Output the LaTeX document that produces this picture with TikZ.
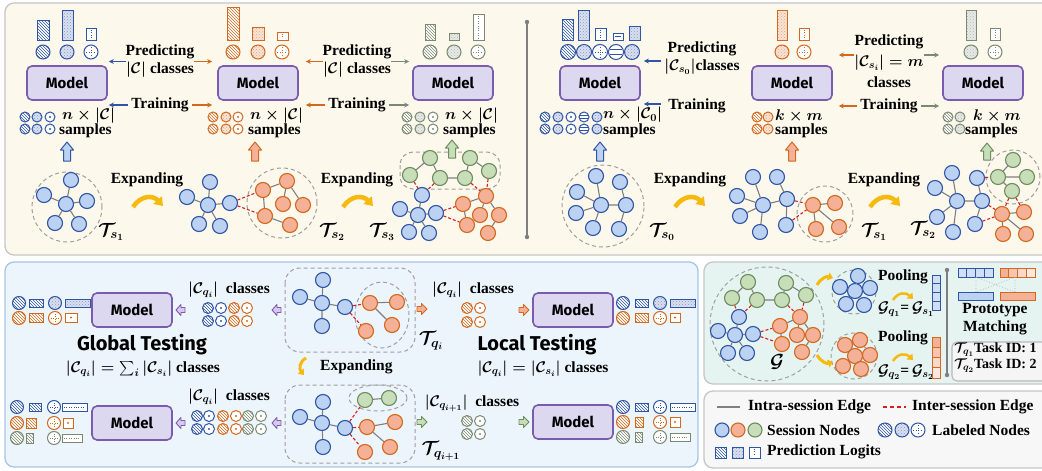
\RequirePackage{fix-cm}
\documentclass[tikz,border=0pt]{standalone}
\usepackage{amsmath}
\usepackage{bm}
\usepackage{fontspec}
\setmainfont{Liberation Serif}
\newfontfamily\mfont{Fira Sans}
\usetikzlibrary{patterns,arrows.meta}
\definecolor{bD}{HTML}{2F55A4}
\definecolor{bL}{HTML}{BCD2F2}
\definecolor{oD}{HTML}{D2691E}
\definecolor{oL}{HTML}{F5B197}
\definecolor{gD}{HTML}{6E8C5E}
\definecolor{gL}{HTML}{C7DEB9}
\definecolor{gI}{HTML}{7A8A72}
\definecolor{pD}{HTML}{7B5BAE}
\definecolor{pL}{HTML}{DCD8F0}
\definecolor{pA}{HTML}{D9C8EE}
\definecolor{yA}{HTML}{F6B90E}
\definecolor{redE}{HTML}{D62020}
\definecolor{grE}{HTML}{7F7F7F}
\definecolor{topF}{HTML}{FDF8EC}
\definecolor{blF}{HTML}{EDF5FC}
\definecolor{blB}{HTML}{A8C4E5}
\definecolor{mF}{HTML}{E6F4F1}
\tikzset{
  sn/.style={circle,draw,line width=1.1pt,minimum size=15pt,inner sep=0pt},
  bn/.style={sn,draw=bD,fill=bL},
  on/.style={sn,draw=oD,fill=oL},
  gn/.style={sn,draw=gD,fill=gL},
  ie/.style={grE,line width=1.1pt},
  xe/.style={redE,line width=1.1pt,dash pattern=on 3pt off 2pt},
  model/.style={draw=pD,fill=pL,rounded corners=5pt,line width=1.6pt,minimum width=80pt,minimum height=34pt,font=\mfont\bfseries\fontsize{15}{15}\selectfont},
  lbl/.style={font=\bfseries\boldmath\fontsize{15.5}{18}\selectfont,inner sep=0pt,align=center},
  tlab/.style={font=\bfseries\boldmath\fontsize{19}{19}\selectfont,inner sep=0pt},
  dcirc/.style={draw=gray!75,dash pattern=on 4pt off 3pt,line width=1pt},
  arr/.style={-{Stealth[length=5pt,width=5pt]},line width=1.1pt},
  ya/.style={yA,line width=4.5pt,-{Triangle[length=8pt,width=11pt]}},
  yas/.style={yA,line width=3pt,-{Triangle[length=5pt,width=8pt]}},
  panel/.style={rounded corners=9pt,line width=1.3pt},
  big/.style={font=\mfont\bfseries\fontsize{20}{20}\selectfont,inner sep=0pt}
}
\newcommand\ico[5]{%
  \ifcase#5\or
    \draw[#4,line width=1pt,preaction={fill=white},pattern=north west lines,pattern color=#4] (#1,#2) circle (#3pt);
  \or
    \draw[#4,line width=1pt,preaction={fill=#4!18},pattern=crosshatch dots,pattern color=#4!60] (#1,#2) circle (#3pt);
  \or
    \draw[#4,line width=1pt,fill=white] (#1,#2) circle (#3pt);
    \draw[#4,line width=0.9pt,dash pattern=on 1pt off 1.4pt] (#1-0.65*#3,#2) -- (#1+0.65*#3,#2) (#1,#2-0.65*#3) -- (#1,#2+0.65*#3);
  \or
    \draw[#4,line width=1pt,fill=white] (#1,#2) circle (#3pt);
    \draw[#4,line width=0.9pt] (#1-0.8*#3,#2-0.3*#3) -- (#1+0.8*#3,#2-0.3*#3) (#1-0.8*#3,#2+0.3*#3) -- (#1+0.8*#3,#2+0.3*#3);
  \or
    \draw[#4,line width=1pt,fill=white] (#1,#2) circle (#3pt);
    \fill[#4] (#1,#2) circle (1.1pt);
  \fi}
\newcommand\lbar[6]{%
  \ifcase#6\or
    \draw[#5,line width=1pt,preaction={fill=white},pattern=north west lines,pattern color=#5] (#1,#2) rectangle (#3,#4);
  \or
    \draw[#5,line width=1pt,preaction={fill=#5!18},pattern=crosshatch dots,pattern color=#5!60] (#1,#2) rectangle (#3,#4);
  \or
    \draw[#5,line width=1pt,fill=white] (#1,#2) rectangle (#3,#4);
    \draw[#5,line width=0.9pt,dash pattern=on 1pt off 1.4pt] ({(#1+#3)/2},#2+2) -- ({(#1+#3)/2},#4-2);
  \or
    \draw[#5,line width=1pt,fill=white] (#1,#2) rectangle (#3,#4);
    \draw[#5,line width=0.9pt] (#1+2,{(#2+#4)/2}) -- (#3-2,{(#2+#4)/2});
  \or
    \draw[#5,line width=1pt,fill=white] (#1,#2) rectangle (#3,#4);
    \fill[#5] ({(#1+#3)/2},{(#2+#4)/2}) circle (1.1pt);
  \or
    \draw[#5,line width=1pt,fill=white] (#1,#2) rectangle (#3,#4);
    \draw[#5,line width=0.9pt,dash pattern=on 1pt off 1.4pt] (#1+2,{(#2+#4)/2}) -- (#3-2,{(#2+#4)/2});
  \fi}
\newcommand\uparr[5]{\draw[#5,fill=#4,line width=1pt,line join=round] (#1-3.5,#3) -- (#1-3.5,#2+8) -- (#1-6.5,#2+8) -- (#1,#2) -- (#1+6.5,#2+8) -- (#1+3.5,#2+8) -- (#1+3.5,#3) -- cycle;}
\newcommand\harr[5]{\draw[#5,fill=#4,line width=0.9pt,line join=round] (#1,#3-2.5) -- ({#1+0.45*(#2-#1)},#3-2.5) -- ({#1+0.45*(#2-#1)},#3-5.5) -- (#2,#3) -- ({#1+0.45*(#2-#1)},#3+5.5) -- ({#1+0.45*(#2-#1)},#3+2.5) -- (#1,#3+2.5) -- cycle;}
\begin{document}
\begin{tikzpicture}[x=1pt,y=-1pt]
\clip (0,0) rectangle (1042,471);
\fill[white] (0,0) rectangle (1042,471);
% panels
\draw[panel,fill=topF,draw=gray!45] (5,3) rectangle (1070,255);
\draw[panel,fill=blF,draw=blB] (5,262) rectangle (698,467);
\draw[panel,fill=mF,draw=gray!45] (704,262) rectangle (1070,384);
\draw[panel,fill=gray!6,draw=gray!45] (704,391) rectangle (1070,468);
% separator
\draw[grE,line width=1.2pt] (527,22) -- (527,237);
\fill[grE] (527,22) circle (2.2pt) (527,237) circle (2.2pt);
% ===== models top
\node[model] (m1) at (67,83) {Model};
\node[model] (m2) at (258,83) {Model};
\node[model] (m3) at (453,83) {Model};
\node[model] (m4) at (600,83) {Model};
\node[model] (m5) at (792,83) {Model};
\node[model] (m6) at (983,83) {Model};
% histograms
\lbar{37}{20}{49}{40}{bD}{1}\lbar{62}{10}{73}{40}{bD}{2}\lbar{86}{28}{96}{40}{bD}{3}
\ico{43}{52}{7}{bD}{1}\ico{67}{52}{7}{bD}{2}\ico{91}{52}{7}{bD}{3}
\lbar{227}{7}{239}{40}{oD}{1}\lbar{252}{27}{264}{40}{oD}{2}\lbar{277}{32}{288}{40}{oD}{3}
\ico{233}{52}{7}{oD}{1}\ico{258}{52}{7}{oD}{2}\ico{282}{52}{7}{oD}{3}
\lbar{425}{24}{435}{40}{gI}{1}\lbar{449}{33}{459}{40}{gI}{2}\lbar{473}{14}{484}{40}{gI}{3}
\ico{430}{52}{7}{gI}{1}\ico{454}{52}{7}{gI}{2}\ico{478}{52}{7}{gI}{3}
\lbar{562}{19}{573}{40}{bD}{1}\lbar{578}{10}{589}{40}{bD}{2}\lbar{595}{28}{606}{40}{bD}{3}\lbar{613}{33}{623}{40}{bD}{4}\lbar{629}{26}{640}{40}{bD}{2}
\ico{568}{52}{7.5}{bD}{1}\ico{584}{52}{7.5}{bD}{2}\ico{600}{52}{7.5}{bD}{3}\ico{616}{52}{7.5}{bD}{4}\ico{632}{52}{7.5}{bD}{2}
\lbar{777}{10}{787}{40}{oD}{2}\lbar{799}{28}{809}{40}{oD}{3}
\ico{782}{52}{7}{oD}{2}\ico{804}{52}{7}{oD}{3}
\lbar{966}{10}{976}{40}{gI}{2}\lbar{990}{28}{1000}{40}{gI}{3}
\ico{971}{52}{7}{gI}{2}\ico{995}{52}{7}{gI}{3}
% labels & arrows
\node[lbl] (p1) at (160,61.5) {Predicting\\$|\mathcal{C}|$ classes};
\draw[arr,bD,shorten >=1pt] (p1.west) -- (p1.west -| m1.east);
\draw[arr,oD,shorten >=5pt] (p1.east) -- (p1.east -| m2.west);
\node[lbl] (t1) at (160,105) {Training};
\draw[arr,bD,shorten >=1pt] ([xshift=-3pt]t1.west) -- (t1.west -| m1.east);
\draw[arr,oD,shorten >=5pt] ([xshift=3pt]t1.east) -- (t1.east -| m2.west);
\node[lbl] (p2) at (357,61.5) {Predicting\\$|\mathcal{C}|$ classes};
\draw[arr,oD,shorten >=7pt] (p2.west) -- (p2.west -| m2.east);
\draw[arr,gI,shorten >=3pt] (p2.east) -- (p2.east -| m3.west);
\node[lbl] (t2) at (357,105) {Training};
\draw[arr,oD,shorten >=7pt] ([xshift=-3pt]t2.west) -- (t2.west -| m2.east);
\draw[arr,gI,shorten >=3pt] ([xshift=3pt]t2.east) -- (t2.east -| m3.west);
\node[lbl] (p4) at (702,58) {Predicting\\$|\mathcal{C}_{s_0}|$classes};
\draw[arr,bD,shorten >=3pt] ([yshift=-3pt,xshift=-3pt]p4.west) -- ([yshift=-3pt]p4.west -| m4.east);
\node[lbl] (t4) at (697,106) {Training};
\draw[arr,bD,shorten >=3pt] ([yshift=2pt,xshift=-7pt]t4.west) -- ([yshift=2pt]t4.west -| m4.east);
\node[lbl,font=\bfseries\boldmath\fontsize{15.5}{21}\selectfont] (p5) at (889,61) {Predicting\\$|\mathcal{C}_{s_i}|=m$\\classes};
\draw[arr,oD,shorten >=6pt] ([yshift=6pt]p5.west) -- ([yshift=6pt]p5.west -| m5.east);
\draw[arr,gI,shorten >=3pt] ([yshift=6pt]p5.east) -- ([yshift=6pt]p5.east -| m6.west);
\node[lbl] (t5) at (889,106) {Training};
\draw[arr,oD,shorten >=6pt] ([xshift=-3pt]t5.west) -- (t5.west -| m5.east);
\draw[arr,gI,shorten >=3pt] ([xshift=3pt]t5.east) -- (t5.east -| m6.west);
% samples
\foreach \yy in {117,129}{\ico{25}{\yy}{5}{bD}{1}\ico{37}{\yy}{5}{bD}{2}\ico{50}{\yy}{5}{bD}{5}
 \ico{213}{\yy}{5}{oD}{1}\ico{226}{\yy}{5}{oD}{2}\ico{238}{\yy}{5}{oD}{5}
 \ico{407}{\yy}{5}{gI}{1}\ico{420}{\yy}{5}{gI}{2}\ico{433}{\yy}{5}{gI}{5}
 \ico{545}{\yy}{5}{bD}{1}\ico{558}{\yy}{5}{bD}{2}\ico{571}{\yy}{5}{bD}{5}\ico{584}{\yy}{5}{bD}{4}\ico{597}{\yy}{5}{bD}{2}
 \ico{757}{\yy}{5}{oD}{1}\ico{768}{\yy}{5}{oD}{2}
 \ico{948}{\yy}{5}{gI}{1}\ico{960}{\yy}{5}{gI}{2}}
\node[lbl,anchor=west] (s1a) at (62,116) {$n\times|\mathcal{C}|$};
\node[lbl,anchor=west] (s1b) at (59,131) {samples};
\node[lbl,anchor=west] (s2a) at (250,116) {$n\times|\mathcal{C}|$};
\node[lbl,anchor=west] (s2b) at (248,131) {samples};
\node[lbl,anchor=west] (s3a) at (445,116) {$n\times|\mathcal{C}|$};
\node[lbl,anchor=west] (s3b) at (443,131) {samples};
\node[lbl,anchor=west] (s4a) at (603,115) {$n\times|\mathcal{C}_0|$};
\node[lbl,anchor=west] (s4b) at (603,131) {samples};
\node[lbl,anchor=west] (s5a) at (775,116) {$k\times m$};
\node[lbl,anchor=west] (s5b) at (775,131) {samples};
\node[lbl,anchor=west] (s6a) at (973,116) {$k\times m$};
\node[lbl,anchor=west] (s6b) at (965,131) {samples};
% up arrows
\uparr{67}{142}{161}{bL}{bD}
\uparr{255}{142}{161}{oL}{oD}
\uparr{600}{142}{161}{bL}{bD}
\uparr{792}{142}{161}{oL}{oD}
% expanding
\node[lbl] (e1) at (147,180) {Expanding};
\draw[ya] (133,207) .. controls (141,195) and (153,195) .. (163,206);
\node[lbl] (e2) at (357,180) {Expanding};
\draw[ya] (343,207) .. controls (351,195) and (363,195) .. (373,206);
\node[lbl] (e3) at (690,180) {Expanding};
\draw[ya] (675,207) .. controls (683,195) and (695,195) .. (705,206);
\node[lbl] (e4) at (884,180) {Expanding};
\draw[ya] (870,207) .. controls (878,195) and (890,195) .. (900,206);
% ===== Ts1
\draw[dcirc] (67,207) circle (35pt);
\node[bn] (a0) at (66,204) {};\node[bn] (a1) at (71,180) {};\node[bn] (a2) at (44,195) {};
\node[bn] (a3) at (87,201) {};\node[bn] (a4) at (55,223) {};\node[bn] (a5) at (79,224) {};
\draw[ie] (a0)--(a1) (a0)--(a2) (a0)--(a3) (a0)--(a4) (a0)--(a5);
\node[tlab] (ts1) at (111,232) {$\mathcal{T}_{s_1}$};
% ===== Ts2
\draw[dcirc] (282,203) circle (35pt);
\node[bn] (b0) at (208,205) {};\node[bn] (b1) at (210,182) {};\node[bn] (b2) at (187,197) {};
\node[bn] (b3) at (230,203) {};\node[bn] (b4) at (199,224) {};\node[bn] (b5) at (220,226) {};
\node[on] (c1) at (263,190) {};\node[on] (c2) at (287,181) {};\node[on] (c3) at (283,204) {};
\node[on] (c4) at (303,205) {};\node[on] (c5) at (265,216) {};\node[on] (c6) at (290,225) {};
\draw[ie] (b0)--(b1) (b0)--(b2) (b0)--(b3) (b0)--(b4) (b0)--(b5);
\draw[ie] (c1)--(c2) (c1)--(c5) (c2)--(c3) (c2)--(c4) (c5)--(c6);
\draw[xe] (b3)--(c1) (b3)--(c5);
\node[tlab] (ts2) at (332,232) {$\mathcal{T}_{s_2}$};
% ===== Ts3
\draw[dcirc,rounded corners=13pt] (400,152) rectangle (500,189);
\node[bn] (d0) at (418,215) {};\node[bn] (d1) at (422,195) {};\node[bn] (d2) at (400,209) {};
\node[bn] (d3) at (436,213) {};\node[bn] (d4) at (409,232) {};\node[bn] (d5) at (429,233) {};
\node[gn] (f1) at (410,175) {};\node[gn] (f2) at (430,158) {};\node[gn] (f3) at (440,178) {};
\node[gn] (f4) at (465,178) {};\node[gn] (f5) at (470,158) {};\node[gn] (f6) at (489,171) {};
\node[on] (h1) at (463,204) {};\node[on] (h2) at (486,196) {};\node[on] (h3) at (467,225) {};
\node[on] (h4) at (480,215) {};\node[on] (h5) at (499,215) {};\node[on] (h6) at (488,233) {};
\draw[ie] (d0)--(d1) (d0)--(d2) (d0)--(d3) (d0)--(d4) (d0)--(d5);
\draw[ie] (f1)--(f2) (f2)--(f3) (f3)--(f4) (f4)--(f5) (f5)--(f6);
\draw[ie] (h1)--(h2) (h1)--(h3) (h2)--(h4) (h2)--(h5) (h5)--(h6);
\draw[xe] (f1)--(d1) (f3)--(d1) (f4)--(h2) (f6)--(h2) (d3)--(h1) (d3)--(h3);
\uparr{452}{140}{158}{gL}{gD}
\node[tlab] (ts3) at (382,232) {$\mathcal{T}_{s_3}$};
% ===== Ts0
\draw[dcirc] (603,206) circle (41pt);
\node[bn] (i0) at (601,205) {};\node[bn] (i1) at (596,176) {};\node[bn] (i2) at (577,192) {};
\node[bn] (i3) at (576,213) {};\node[bn] (i4) at (593,228) {};\node[bn] (i5) at (626,205) {};
\node[bn] (i6) at (620,182) {};\node[bn] (i7) at (619,229) {};
\draw[ie] (i0)--(i1) (i0)--(i2) (i0)--(i3) (i0)--(i4) (i0)--(i5) (i5)--(i6) (i5)--(i7);
\node[tlab] (ts0) at (662,232) {$\mathcal{T}_{s_0}$};
% ===== Ts1 right
\draw[dcirc] (825,214) circle (28pt);
\node[bn] (j0) at (763,205) {};\node[bn] (j1) at (753,177) {};\node[bn] (j2) at (777,177) {};
\node[bn] (j3) at (737,196) {};\node[bn] (j4) at (787,199) {};\node[bn] (j5) at (740,216) {};
\node[bn] (j6) at (760,232) {};\node[bn] (j7) at (786,225) {};
\node[on] (k1) at (813,205) {};\node[on] (k2) at (835,203) {};\node[on] (k3) at (816,229) {};\node[on] (k4) at (839,227) {};
\draw[ie] (j0)--(j1) (j0)--(j3) (j0)--(j5) (j0)--(j6) (j0)--(j4) (j4)--(j2) (j4)--(j7);
\draw[ie] (k1)--(k2) (k1)--(k3) (k1)--(k4);
\draw[xe] (j4)--(k1) (j7)--(k1);
\node[tlab] (ts1r) at (874,232) {$\mathcal{T}_{s_1}$};
% ===== Ts2 right
\draw[dcirc] (1013,177) circle (27pt);
\node[bn] (l0) at (957,201) {};\node[bn] (l1) at (952,173) {};\node[bn] (l2) at (977,178) {};
\node[bn] (l3) at (935,188) {};\node[bn] (l4) at (982,201) {};\node[bn] (l5) at (937,217) {};
\node[bn] (l6) at (953,232) {};\node[bn] (l7) at (975,224) {};
\node[gn] (q1) at (1013,160) {};\node[gn] (q2) at (998,177) {};\node[gn] (q3) at (1027,177) {};\node[gn] (q4) at (1012,191) {};
\node[on] (r1) at (1002,214) {};\node[on] (r2) at (1024,212) {};\node[on] (r3) at (1003,234) {};\node[on] (r4) at (1026,234) {};
\draw[ie] (l0)--(l1) (l0)--(l3) (l0)--(l5) (l0)--(l6) (l0)--(l4) (l4)--(l2) (l4)--(l7);
\draw[ie] (q2)--(q1) (q2)--(q3) (q2)--(q4);
\draw[ie] (r1)--(r2) (r1)--(r3) (r1)--(r4);
\draw[xe] (l2)--(q2) (l4)--(r1) (l7)--(r1) (q4)--(r1) (q4)--(r2);
\uparr{987}{143}{160}{gL}{gD}
\node[tlab] (ts2r) at (923,230) {$\mathcal{T}_{s_2}$};
% ===== bottom left
\node[model] (L1) at (132,310) {Model};
\node[model] (L2) at (132,423) {Model};
\node[model] (R1) at (573,310) {Model};
\node[model] (R2) at (573,422) {Model};
% outputs L1
\ico{19}{303}{6.5}{bD}{1}\lbar{29}{299}{43}{307}{bD}{1}\ico{55}{303}{6.5}{bD}{2}\lbar{65}{299}{90}{307}{bD}{2}
\ico{19}{318}{6.5}{oD}{1}\lbar{29}{313}{43}{322}{oD}{1}\ico{55}{318}{6.5}{oD}{3}\lbar{65}{313}{77}{322}{oD}{5}
% outputs L2
\ico{17}{407}{6.5}{bD}{1}\lbar{29}{403}{41}{411}{bD}{1}\ico{54}{407}{6.5}{bD}{3}\lbar{62}{403}{87}{411}{bD}{6}
\ico{17}{423}{6.5}{oD}{1}\lbar{26}{418}{36}{428}{oD}{1}\ico{54}{423}{6.5}{oD}{3}\lbar{63}{418}{73}{428}{oD}{5}
\ico{17}{438}{6.5}{gI}{1}\lbar{26}{433}{33}{443}{gI}{1}\ico{54}{438}{6.5}{gI}{3}\lbar{62}{434}{82}{442}{gI}{6}
\node[big] (gt) at (142,345) {Global Testing};
\node[lbl] (gf) at (143,369) {$|\mathcal{C}_{q_i}|=\sum_i|\mathcal{C}_{s_i}|$ classes};
\node[lbl] (cl1) at (229,290) {$|\mathcal{C}_{q_i}|$\ \ classes};
\node[lbl] (cl2) at (229,397) {$|\mathcal{C}_{q_i}|$\ \ classes};
\foreach \yy in {308,321}{\ico{208}{\yy}{5.5}{bD}{1}\ico{221}{\yy}{5.5}{bD}{5}\ico{234}{\yy}{5.5}{oD}{1}\ico{247}{\yy}{5.5}{oD}{5}}
\foreach \yy in {416,429}{\ico{197}{\yy}{5.5}{bD}{1}\ico{209}{\yy}{5.5}{bD}{5}\ico{223}{\yy}{5.5}{oD}{1}\ico{236}{\yy}{5.5}{oD}{5}\ico{248}{\yy}{5.5}{gI}{1}\ico{261}{\yy}{5.5}{gI}{5}}
\harr{185}{176}{310}{pA}{pD}\harr{281}{272}{310}{pA}{pD}
\harr{185}{176}{423}{pA}{pD}\harr{281}{272}{423}{pA}{pD}
% Tqi
\draw[dcirc,rounded corners=15pt] (285,268) rectangle (415,352);
\draw[dcirc] (382,315) ellipse [x radius=27pt,y radius=33pt];
\node[bn] (u0) at (322,303) {};\node[bn] (u1) at (323,280) {};\node[bn] (u2) at (300,297) {};
\node[bn] (u3) at (345,307) {};\node[bn] (u4) at (322,326) {};
\node[on] (v1) at (370,303) {};\node[on] (v2) at (397,302) {};\node[on] (v3) at (366,331) {};\node[on] (v4) at (392,325) {};
\draw[ie] (u0)--(u1) (u0)--(u2) (u0)--(u3) (u0)--(u4) (v1)--(v2) (v1)--(v4);
\draw[xe] (u3)--(v1) (u3)--(v3);
\node[tlab] (tqi) at (431,341) {$\mathcal{T}_{q_i}$};
\draw[yas] (306,358) .. controls (299,362) and (299,369) .. (304,375);
\node[lbl,anchor=west] (e5) at (320,367) {Expanding};
% Tqi+1
\draw[dcirc,rounded corners=15pt] (285,385) rectangle (415,463);
\draw[dcirc] (378,398) ellipse [x radius=29pt,y radius=13pt];
\node[bn] (w0) at (322,423) {};\node[bn] (w1) at (323,402) {};\node[bn] (w2) at (300,417) {};
\node[bn] (w3) at (345,428) {};\node[bn] (w4) at (323,447) {};
\node[gn] (x1) at (365,400) {};\node[gn] (x2) at (389,398) {};
\node[on] (y1) at (367,427) {};\node[on] (y2) at (395,422) {};\node[on] (y3) at (365,452) {};\node[on] (y4) at (390,447) {};
\draw[ie] (w0)--(w1) (w0)--(w2) (w0)--(w3) (w0)--(w4) (x1)--(x2) (y1)--(y2) (y1)--(y4);
\draw[xe] (w3)--(x1) (w3)--(y1) (w3)--(y3);
\node[tlab] (tqj) at (441,451) {$\mathcal{T}_{q_{i+1}}$};
% local right
\node[lbl] (cr1) at (473,290) {$|\mathcal{C}_{q_i}|$\ \ classes};
\node[lbl] (cr2) at (472,403) {$|\mathcal{C}_{q_{i+1}}|$\ \ classes};
\harr{417}{427}{309}{oL}{oD}\harr{519}{529}{310}{oL}{oD}
\harr{417}{427}{422}{gL}{gD}\harr{519}{529}{422}{gL}{gD}
\foreach \yy in {308,322}{\ico{467}{\yy}{5.5}{oD}{1}\ico{480}{\yy}{5.5}{oD}{5}}
\foreach \yy in {421,434}{\ico{467}{\yy}{5.5}{gI}{1}\ico{480}{\yy}{5.5}{gI}{5}}
\ico{623}{303}{6.5}{bD}{1}\lbar{635}{299}{648}{307}{bD}{1}\ico{660}{303}{6.5}{bD}{2}\lbar{670}{299}{695}{307}{bD}{2}
\ico{623}{318}{6.5}{oD}{1}\lbar{635}{313}{648}{322}{oD}{1}\ico{660}{318}{6.5}{oD}{3}\lbar{670}{313}{680}{322}{oD}{5}
\ico{623}{407}{6.5}{bD}{1}\lbar{635}{403}{648}{411}{bD}{1}\ico{660}{407}{6.5}{bD}{3}\lbar{670}{403}{695}{411}{bD}{6}
\ico{623}{422}{6.5}{oD}{1}\lbar{635}{417}{643}{427}{oD}{1}\ico{660}{422}{6.5}{oD}{3}\lbar{670}{417}{680}{427}{oD}{5}
\ico{623}{437}{6.5}{gI}{1}\lbar{635}{432}{642}{442}{gI}{1}\ico{660}{437}{6.5}{gI}{3}\lbar{670}{433}{690}{441}{gI}{6}
\node[big] (lt) at (537,345) {Local Testing};
\node[lbl] (lf) at (543,369) {$|\mathcal{C}_{q_i}|=|\mathcal{C}_{s_i}|$ classes};
% ===== bottom right: G
\draw[dcirc] (767,324) circle (57pt);
\begin{scope}[every node/.append style={minimum size=13pt}]
\node[gn] (ga) at (732,298) {};\node[gn] (gb) at (748,282) {};\node[gn] (gc) at (757,300) {};
\node[gn] (gd) at (782,300) {};\node[gn] (ge) at (786,283) {};\node[gn] (gf2) at (806,295) {};
\node[bn] (ba) at (739,317) {};\node[bn] (bb) at (718,331) {};\node[bn] (bc) at (735,335) {};
\node[bn] (bd) at (753,334) {};\node[bn] (be) at (728,353) {};\node[bn] (bf) at (747,353) {};
\node[on] (oa) at (780,326) {};\node[on] (ob) at (800,317) {};\node[on] (oc) at (782,344) {};
\node[on] (od) at (797,335) {};\node[on] (oe) at (813,335) {};\node[on] (of) at (802,352) {};
\end{scope}
\draw[ie] (ga)--(gb) (gb)--(gc) (gc)--(gd) (gd)--(ge) (ge)--(gf2);
\draw[ie] (bc)--(ba) (bc)--(bb) (bc)--(bd) (bc)--(be) (bc)--(bf);
\draw[ie] (oa)--(ob) (oa)--(oc) (ob)--(od) (ob)--(oe) (oe)--(of);
\draw[xe] (ga)--(ba) (gc)--(ba) (gd)--(ob) (gf2)--(ob) (bd)--(oa) (bd)--(oc);
\node[tlab] (gG) at (777,362) {$\mathcal{G}$};
% pools
\draw[dcirc] (854,292) circle (22pt);
\draw[dcirc] (854,356) circle (23pt);
\begin{scope}[every node/.append style={minimum size=10pt,line width=1pt}]
\node[bn] (pa0) at (855,291) {};\node[bn] (pa1) at (858,276) {};\node[bn] (pa2) at (840,287) {};
\node[bn] (pa3) at (870,288) {};\node[bn] (pa4) at (846,304) {};\node[bn] (pa5) at (864,305) {};
\node[on] (pb0) at (855,356) {};\node[on] (pb1) at (860,340) {};\node[on] (pb2) at (845,345) {};
\node[on] (pb3) at (870,355) {};\node[on] (pb4) at (843,366) {};\node[on] (pb5) at (861,369) {};
\end{scope}
\draw[ie,line width=0.9pt] (pa0)--(pa1) (pa0)--(pa2) (pa0)--(pa3) (pa0)--(pa4) (pa0)--(pa5);
\draw[ie,line width=0.9pt] (pb0)--(pb1) (pb2)--(pb1) (pb1)--(pb3) (pb0)--(pb4) (pb0)--(pb5) (pb0)--(pb2);
\draw[yas] (817,285) .. controls (821,278) and (827,276) .. (833,278);
\draw[yas] (817,355) .. controls (821,362) and (827,364) .. (833,362);
\node[lbl] (po1) at (903,277) {Pooling};
\node[lbl] (po2) at (903,338) {Pooling};
\draw[yas,line width=2.5pt] (893,300) .. controls (898,292) and (906,292) .. (913,299);
\draw[yas,line width=2.5pt] (893,361) .. controls (898,353) and (906,353) .. (913,360);
\node[lbl] (eq1) at (906,309) {$\mathcal{G}_{q_1}$=\,$\mathcal{G}_{s_1}$};
\node[lbl] (eq2) at (906,372) {$\mathcal{G}_{q_2}$=\,$\mathcal{G}_{s_2}$};
\foreach \k in {0,1,2,3}{\draw[bD,fill=bL!70,line width=0.9pt] (932,275+8.75*\k) rectangle (940,275+8.75*\k+8.75);}
\foreach \k/\c in {0/100,1/75,2/50,3/30}{\draw[oD,fill=oL!\c,line width=0.9pt] (932,337+10.25*\k) rectangle (940,337+10.25*\k+10.25);}
\draw[grE,line width=1.2pt] (947,270) -- (947,375);
\fill[grE] (947,270) circle (2.2pt) (947,375) circle (2.2pt);
\foreach \k in {0,1,2,3}{\draw[bD,fill=bL!70,line width=0.9pt] (958+8.75*\k,268) rectangle (958+8.75*\k+8.75,277);}
\foreach \k/\c in {0/100,1/75,2/50,3/30}{\draw[oD,fill=oL!\c,line width=0.9pt] (1000+8.75*\k,268) rectangle (1000+8.75*\k+8.75,277);}
\draw[gray!60,line width=0.8pt,dotted] (976,277) -- (976,292) (1015,277) -- (1015,292) (976,277) -- (1015,292) (1015,277) -- (976,292);
\draw[bD,fill=bL,line width=0.9pt] (958,292) rectangle (993,300);
\draw[oD,fill=oL,line width=0.9pt] (1000,292) rectangle (1035,300);
\node[lbl] (pm) at (995,319) {Prototype\\Matching};
\draw[fill=gray!8,draw=gray!55,line width=1.1pt,rounded corners=5pt] (952,342) rectangle (1070,381);
\node[lbl,anchor=west,font=\bfseries\boldmath\fontsize{14}{16}\selectfont] (tid1) at (954,350) {$\mathcal{T}_{q_1}$Task ID: 1};
\node[lbl,anchor=west,font=\bfseries\boldmath\fontsize{14}{16}\selectfont] (tid2) at (954,366) {$\mathcal{T}_{q_2}$Task ID: 2};
% ===== legend
\draw[grE,line width=2.4pt] (717,407) -- (740,407);
\node[lbl,anchor=west] (lg1) at (748,407) {Intra-session Edge};
\draw[redE,line width=1.6pt,dash pattern=on 4pt off 3pt] (883,407) -- (906,407);
\node[lbl,anchor=west] (lg2) at (912,407) {Inter-session Edge};
\node[bn,minimum size=14pt] (lgb) at (722,430) {};
\node[on,minimum size=14pt] (lgo) at (738,430) {};
\node[gn,minimum size=14pt] (lgg) at (755,430) {};
\node[lbl,anchor=west] (lg3) at (767,430) {Session Nodes};
\ico{885}{430}{7}{bD}{1}\ico{902}{430}{7}{bD}{2}\ico{918}{430}{7}{bD}{3}
\node[lbl,anchor=west] (lg4) at (932,430) {Labeled Nodes};
\lbar{715}{447}{726}{458}{bD}{1}\lbar{732}{447}{743}{458}{bD}{2}\lbar{749}{447}{760}{458}{bD}{3}
\node[lbl,anchor=west] (lg5) at (767,452) {Prediction Logits};
\end{tikzpicture}
\end{document}
